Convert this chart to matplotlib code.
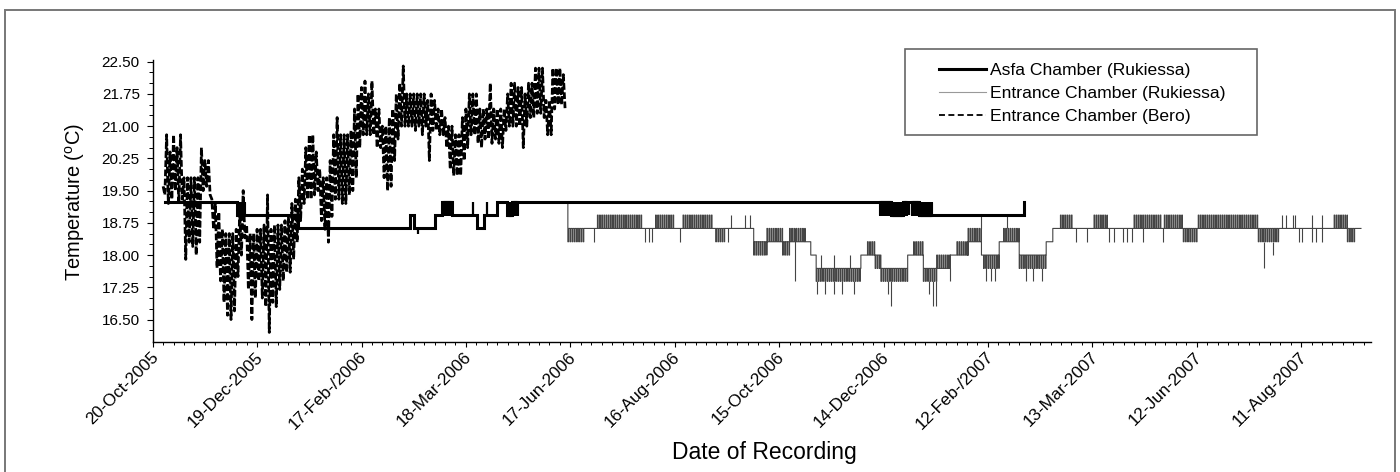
import numpy as np
import matplotlib
matplotlib.use('Agg')
import matplotlib.pyplot as plt
from matplotlib import font_manager
from matplotlib.patches import Rectangle
from matplotlib.lines import Line2D
import matplotlib.transforms as mtransforms

# ------------------------------------------------------------------ data
tick_labels = ['20-Oct-2005', '19-Dec-2005', '17-Feb-/2006', '18-Mar-2006',
               '17-Jun-2006', '16-Aug-2006', '15-Oct-2006', '14-Dec-2006',
               '12-Feb-/2007', '13-Mar-2007', '12-Jun-2007', '11-Aug-2007']
tick_days = [0, 60, 120, 180, 240, 300, 360, 420, 480, 540, 600, 660]

series_names = ['Asfa Chamber (Rukiessa)', 'Entrance Chamber (Rukiessa)',
                'Entrance Chamber (Bero)']

# Entrance Chamber (Bero): daily high / low read every 2 days from day 6
bero_start = 6
bero_step = 2
bero_high = [19.6, 20.8, 20.4, 20.8, 20.5, 20.8, 19.8, 19.8, 19.8, 19.8,
             19.8, 20.5, 20.2, 20.2, 19.3, 19.2, 19.0, 18.6, 18.5, 18.5,
             18.5, 18.6, 19.0, 19.5, 18.7, 18.5, 18.5, 18.6, 18.6, 18.7,
             19.4, 18.6, 18.7, 18.7, 18.7, 18.8, 18.9, 19.2, 19.3, 19.8,
             20.0, 20.5, 20.8, 20.8, 20.4, 20.0, 19.8, 19.8, 20.2, 20.8,
             21.2, 20.8, 20.8, 20.8, 20.9, 21.4, 21.75, 21.9, 22.05, 21.75,
             22.05, 21.4, 21.4, 21.0, 21.0, 21.2, 21.4, 21.75, 22.0, 22.4,
             21.75, 21.75, 21.75, 21.75, 21.75, 21.75, 21.6, 21.75, 21.6, 21.4,
             21.4, 21.2, 21.0, 21.0, 20.8, 20.8, 21.2, 21.4, 21.75, 21.75,
             21.75, 21.4, 21.4, 21.4, 22.0, 21.4, 21.4, 21.4, 21.4, 21.75,
             22.0, 22.0, 21.9, 21.9, 21.75, 22.0, 22.0, 22.35, 22.35, 22.35,
             21.6, 21.6, 22.35, 22.35, 22.35, 22.2]
bero_low = [19.4, 19.2, 19.3, 19.5, 19.2, 19.3, 17.9, 18.3, 18.2, 18.0,
            18.3, 19.5, 19.6, 19.4, 18.6, 17.7, 17.4, 16.9, 16.6, 16.5,
            16.7, 17.5, 18.0, 18.4, 17.2, 16.5, 17.0, 17.4, 17.0, 16.8,
            16.2, 16.9, 16.8, 17.2, 17.4, 17.6, 17.6, 17.9, 18.3, 18.8,
            19.2, 19.3, 19.3, 19.4, 19.5, 18.8, 18.6, 18.3, 18.9, 19.3,
            19.3, 19.2, 19.2, 19.4, 19.5, 19.8, 20.5, 20.8, 20.8, 20.8,
            20.8, 20.5, 20.5, 19.8, 19.5, 19.6, 20.2, 20.7, 21.0, 21.0,
            21.0, 21.0, 20.9, 21.0, 20.8, 21.0, 20.2, 20.9, 20.9, 20.8,
            20.8, 20.5, 20.0, 19.85, 19.85, 19.85, 20.2, 20.5, 20.8, 20.8,
            20.6, 20.5, 20.7, 20.7, 20.6, 20.7, 20.6, 20.5, 20.9, 21.0,
            21.0, 21.0, 21.0, 20.5, 21.0, 21.2, 21.2, 21.3, 21.3, 21.2,
            20.8, 20.8, 21.4, 21.5, 21.5, 21.4]

# Asfa Chamber (Rukiessa): (start day, end day, level, alternating level)
asfa_segments = [
    (7.2, 48.2, 19.24, 19.24), (48.2, 52.8, 18.93, 19.24),
    (52.8, 83.5, 18.93, 18.93), (83.5, 147.8, 18.62, 18.62),
    (147.8, 150.4, 18.93, 18.93), (150.4, 162.4, 18.62, 18.62),
    (162.4, 166.3, 18.93, 18.93), (166.3, 171.9, 18.93, 19.24),
    (171.9, 186.3, 18.93, 18.93), (186.3, 190.6, 18.62, 18.62),
    (190.6, 197.6, 18.93, 18.93), (197.6, 203.5, 19.24, 19.24),
    (203.5, 209.4, 18.93, 19.24), (209.4, 418.0, 19.24, 19.24),
    (418.0, 433.2, 18.93, 19.24), (433.2, 436.5, 19.24, 19.24),
    (436.5, 447.5, 18.93, 19.24), (447.5, 500.6, 18.93, 18.93),
    (500.6, 500.6, 19.24, 19.24)]
asfa_spikes = [(152.2, 18.62, 18.50), (184.2, 18.93, 19.24),
               (192.0, 18.93, 19.24), (434.7, 19.24, 18.93)]

# Entrance Chamber (Rukiessa): (start day, end day, level, alternating level)
entrance_segments = [
    (238.6, 238.6, 19.24, 19.24), (238.6, 248.4, 18.62, 18.31),
    (248.4, 255.6, 18.62, 18.62), (255.6, 281.7, 18.62, 18.93),
    (281.7, 289.0, 18.62, 18.62), (289.0, 299.7, 18.62, 18.93),
    (299.7, 304.8, 18.62, 18.62), (304.8, 322.3, 18.62, 18.93),
    (322.3, 323.6, 18.62, 18.62), (323.6, 328.7, 18.62, 18.31),
    (328.7, 345.4, 18.62, 18.62), (345.4, 353.0, 18.31, 18.00),
    (353.0, 362.0, 18.31, 18.62), (362.0, 366.0, 18.31, 18.00),
    (366.0, 375.0, 18.31, 18.62), (375.0, 378.2, 18.31, 18.31),
    (378.2, 381.3, 18.00, 18.00), (381.3, 407.0, 17.69, 17.39),
    (407.0, 410.8, 18.00, 18.00), (410.8, 415.2, 18.00, 18.31),
    (415.2, 418.5, 18.00, 17.69), (418.5, 433.9, 17.69, 17.39),
    (433.9, 437.3, 18.00, 18.00), (437.3, 442.9, 18.00, 18.31),
    (442.9, 450.6, 17.69, 17.39), (450.6, 458.3, 17.69, 18.00),
    (458.3, 462.2, 18.00, 18.00), (462.2, 468.6, 18.00, 18.31),
    (468.6, 476.3, 18.31, 18.62), (476.3, 477.5, 18.00, 18.00),
    (477.5, 486.5, 18.00, 17.69), (486.5, 489.0, 18.31, 18.31),
    (489.0, 498.0, 18.31, 18.62), (498.0, 513.5, 18.00, 17.69),
    (513.5, 517.3, 18.31, 18.31), (517.3, 521.7, 18.62, 18.62),
    (521.7, 528.4, 18.62, 18.93), (528.4, 541.0, 18.62, 18.62),
    (541.0, 548.6, 18.62, 18.93), (548.6, 564.0, 18.62, 18.62),
    (564.0, 579.6, 18.62, 18.93), (579.6, 581.4, 18.62, 18.62),
    (581.4, 592.3, 18.62, 18.93), (592.3, 600.9, 18.62, 18.31),
    (600.9, 635.4, 18.62, 18.93), (635.4, 647.1, 18.62, 18.31),
    (647.1, 679.0, 18.62, 18.62), (679.0, 686.6, 18.62, 18.93),
    (686.6, 691.6, 18.62, 18.31), (691.6, 694.4, 18.62, 18.62)]
entrance_spikes = [
    (253.5, 18.62, 18.31), (283.0, 18.62, 18.31), (285.5, 18.62, 18.31),
    (286.9, 18.62, 18.31), (302.8, 18.62, 18.31), (330.5, 18.62, 18.31),
    (332.6, 18.62, 18.93), (340.3, 18.62, 18.93), (343.3, 18.62, 18.93),
    (369.3, 18.62, 17.39), (384.0, 17.69, 18.00), (391.6, 17.69, 18.00),
    (400.6, 17.69, 18.00), (381.8, 17.39, 17.10), (386.5, 17.39, 17.10),
    (391.6, 17.39, 17.10), (396.2, 17.39, 17.10), (403.1, 17.39, 17.10),
    (422.4, 17.39, 17.10), (424.4, 17.39, 16.81), (446.0, 17.39, 17.10),
    (448.5, 17.39, 16.81), (450.0, 17.39, 16.81), (458.3, 17.69, 17.39),
    (476.3, 18.62, 18.93), (479.0, 17.69, 17.39), (482.0, 17.69, 17.39),
    (484.0, 17.69, 17.39), (491.0, 18.62, 18.93), (502.0, 17.69, 17.39),
    (506.0, 17.69, 17.39), (511.0, 17.69, 17.39), (530.4, 18.62, 18.31),
    (536.8, 18.62, 18.31), (549.7, 18.62, 18.31), (552.6, 18.62, 18.31),
    (557.4, 18.62, 18.31), (559.9, 18.62, 18.31), (562.6, 18.62, 18.31),
    (569.0, 18.62, 18.31), (580.6, 18.62, 18.31), (638.4, 18.31, 17.70),
    (643.9, 18.31, 18.00), (649.1, 18.62, 18.93), (651.4, 18.62, 18.93),
    (655.2, 18.62, 18.93), (656.4, 18.62, 18.93), (666.0, 18.62, 18.93),
    (671.8, 18.62, 18.93), (658.7, 18.62, 18.31), (660.6, 18.62, 18.31),
    (666.4, 18.62, 18.31), (668.3, 18.62, 18.31), (672.1, 18.62, 18.31)]


# ------------------------------------------------------------------ helpers
def segments_path(segs, period, pulse):
    xs, ys = [], []
    for (s, e, lev, alt) in segs:
        if lev == alt or e <= s:
            xs += [s, e]
            ys += [lev, lev]
        else:
            t = s
            while t < e:
                t2 = min(t + pulse, e)
                xs += [t, t, t2, t2]
                ys += [lev, alt, alt, lev]
                t += period
            xs.append(e)
            ys.append(lev)
    return np.array(xs), np.array(ys)


def minmax_path(start, step, highs, lows):
    xs, ys = [], []
    for i, (h, l) in enumerate(zip(highs, lows)):
        d = start + i * step
        xs += [d, d + step / 2.0]
        ys += [h, l]
    return np.array(xs), np.array(ys)


# ------------------------------------------------------------------ fonts
names = {f.name for f in font_manager.fontManager.ttflist}
REG = 'Liberation Sans' if 'Liberation Sans' in names else 'DejaVu Sans'
NARROW = 'Liberation Sans Narrow' in names
TICKFONT = 'Liberation Sans Narrow' if NARROW else REG
YTS = 13.5 if NARROW else 11.0
XTS = 14.0 if NARROW else 12.3

plt.rcParams['font.family'] = [REG, 'DejaVu Sans']
plt.rcParams['mathtext.fontset'] = 'custom'
plt.rcParams['mathtext.rm'] = REG
plt.rcParams['mathtext.it'] = REG

# ------------------------------------------------------------------ figure
W, H = 1400, 472
fig = plt.figure(figsize=(W / 100, H / 100), dpi=100)
fig.patch.set_facecolor('white')

# outer frame (cut at bottom)
fig.patches.append(Rectangle((4.7 / W, -0.05), (1395.3 - 4.7) / W, 1 - 10 / H + 0.05,
                             transform=fig.transFigure, fill=False,
                             edgecolor='#777777', linewidth=1.4))

ax_l, ax_r, ax_b, ax_t = 152.7, 1370.7, 342.3, 60.0
ax = fig.add_axes([ax_l / W, 1 - ax_b / H, (ax_r - ax_l) / W, (ax_b - ax_t) / H])

# Bero
bx, by = minmax_path(bero_start, bero_step, bero_high, bero_low)
ax.plot(bx, by, color='black', linewidth=2.0, linestyle=(0, (2.4, 0.9)),
        zorder=2, label=series_names[2])

# Entrance Rukiessa
ex, ey = segments_path(entrance_segments, 1.25, 0.4)
ax.plot(ex, ey, color='#444444', linewidth=0.8, zorder=3, label=series_names[1])
ax.vlines([s[0] for s in entrance_spikes], [s[1] for s in entrance_spikes],
          [s[2] for s in entrance_spikes], color='#444444', linewidth=0.8, zorder=3)

# Asfa
ax_x, ax_y = segments_path(asfa_segments, 0.6, 0.3)
ax.plot(ax_x, ax_y, color='black', linewidth=2.2, zorder=4,
        solid_joinstyle='miter', label=series_names[0])
ax.vlines([s[0] for s in asfa_spikes], [s[1] for s in asfa_spikes],
          [s[2] for s in asfa_spikes], color='black', linewidth=1.6, zorder=4)

# axes styling
ax.set_xlim(0, 700)
ax.set_ylim(15.97, 22.54)
for sp in ['top', 'right']:
    ax.spines[sp].set_visible(False)
for sp in ['left', 'bottom']:
    ax.spines[sp].set_linewidth(1.0)

ax.set_xticks(tick_days)
ax.set_xticklabels(tick_labels, rotation=45, ha='right', va='center',
                   rotation_mode='anchor', fontsize=XTS, family=TICKFONT)
ax.set_xticks(np.arange(0, 700.1, 6), minor=True)
yt = np.arange(16.5, 22.51, 0.75)
ax.set_yticks(yt)
ax.set_yticklabels(['%.2f' % v for v in yt], fontsize=YTS, family=TICKFONT)
ax.set_yticks(np.arange(16.25, 22.51, 0.25), minor=True)
ax.tick_params(axis='x', which='major', direction='out', length=3.8, width=0.8, pad=5)
ax.tick_params(axis='x', which='minor', direction='out', length=2.2, width=0.7)
ax.tick_params(axis='y', which='major', direction='out', length=4.3, width=0.8, pad=5)
ax.tick_params(axis='y', which='minor', direction='out', length=2.6, width=0.7)

offset = mtransforms.ScaledTranslation(3 / 100, 0, fig.dpi_scale_trans)
for lab in ax.get_xticklabels():
    lab.set_transform(lab.get_transform() + offset)

ax.set_ylabel('Temperature ($^{\\mathrm{o}}$C)', fontsize=14.5, va='center')
ax.yaxis.set_label_coords((75 - ax_l) / (ax_r - ax_l), (ax_b - 202.5) / (ax_b - ax_t))
ax.set_xlabel('Date of Recording', fontsize=16.5, va='center')
ax.xaxis.set_label_coords((764 - ax_l) / (ax_r - ax_l), (ax_b - 453) / (ax_b - ax_t))

# legend with custom frame
fig.patches.append(Rectangle((905 / W, 1 - 135 / H), (1257 - 905) / W, (135 - 49) / H,
                             transform=fig.transFigure, fill=False,
                             edgecolor='#666666', linewidth=1.2))
handles = [Line2D([], [], color='black', linewidth=2.2),
           Line2D([], [], color='#999999', linewidth=0.8),
           Line2D([], [], color='black', linewidth=1.3, linestyle=(0, (3.3, 1.9)))]
fig.legend(handles, series_names, loc='upper left',
           bbox_to_anchor=(939 / W, 1 - 62.5 / H), bbox_transform=fig.transFigure,
           frameon=False, fontsize=12.6, borderpad=0, borderaxespad=0,
           handlelength=2.7, handletextpad=0.22, labelspacing=0.46)

fig.savefig('out.png', dpi=100, facecolor='white')
